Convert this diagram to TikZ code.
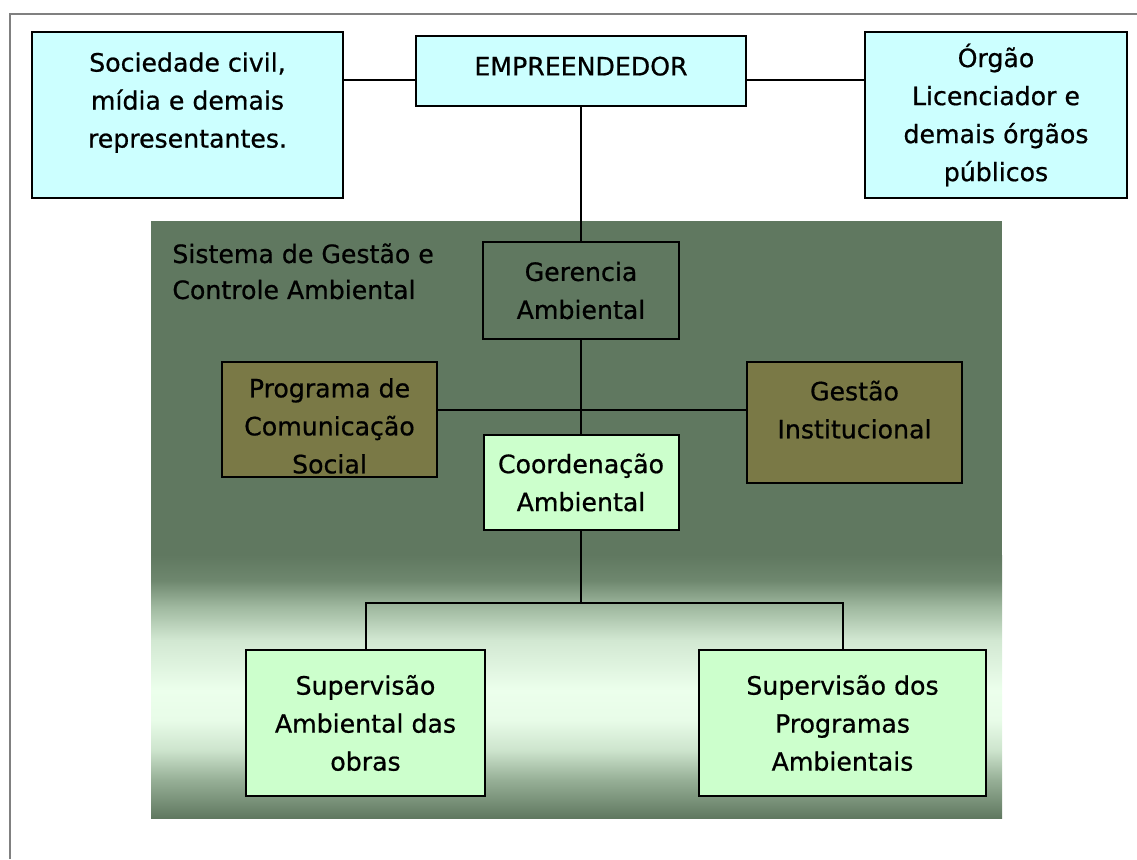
\documentclass[tikz,border=0pt]{standalone}
\usepackage{fontspec}
\setmainfont{DejaVu Sans}[FakeBold=0.7]
\usetikzlibrary{positioning, calc}

\definecolor{paleCyan}{RGB}{204,255,255}
\definecolor{paleGreen}{RGB}{204,255,204}
\definecolor{lightGreen}{RGB}{236,255,236}
\definecolor{darkGreen}{RGB}{96,120,96}
\definecolor{oliveBox}{RGB}{122,121,70}
\definecolor{frameGray}{RGB}{128,128,128}
% steps of the light band in the background
\definecolor{bandA}{RGB}{150,175,150}
\definecolor{bandB}{RGB}{205,228,205}
\definecolor{bandC}{RGB}{232,252,232}
\definecolor{bandD}{RGB}{210,232,210}
\definecolor{bandE}{RGB}{160,185,160}
\definecolor{bandF}{RGB}{110,135,110}
\pgfdeclareverticalshading{lightband}{100bp}{
    color(0bp)=(darkGreen); color(25bp)=(darkGreen); color(32.2bp)=(bandA);
    color(37.9bp)=(bandB); color(43.6bp)=(bandC); color(49.3bp)=(lightGreen);
    color(58.8bp)=(bandD); color(65.1bp)=(bandE); color(70.2bp)=(bandF);
    color(75bp)=(darkGreen); color(100bp)=(darkGreen)}

\begin{document}
\begin{tikzpicture}[
    x=0.5pt, y=-0.5pt,
    orgbox/.style={draw=black, line width=1pt, align=center, inner sep=2pt,
        font=\fontsize{12.6}{19}\selectfont},
    cyanbox/.style={orgbox, fill=paleCyan},
    darkbox/.style={orgbox, fill=darkGreen},
    olivebox/.style={orgbox, fill=oliveBox},
    greenbox/.style={orgbox, fill=paleGreen},
    link/.style={draw=black, line width=1pt}
]
\useasboundingbox (0,0) rectangle (1137,859);

% Outer frame (only top and left edges show)
\draw[frameGray, line width=1pt] (10,859) -- (10,14) -- (1137,14);

% Background of the management system
\fill[darkGreen] (151,221) rectangle (1002,818);
\shade[shading=lightband] (151,555) rectangle (1002,818);

% Top row
\node (soc) [cyanbox, minimum width=155.5pt, minimum height=83pt, text depth=15pt] at (187.5,115)
    {Sociedade civil,\\ mídia e demais\\ representantes.};
\node (emp) [cyanbox, minimum width=165pt, minimum height=35pt, text depth=5pt] at (581,71) {EMPREENDEDOR};
\node (orgao) [cyanbox, minimum width=131pt, minimum height=83pt] at (996,115)
    {Órgão\\ Licenciador e\\ demais órgãos\\ públicos};

% System title
\node (title) [anchor=north west, align=left, inner sep=0pt,
    font=\fontsize{12.6}{18}\selectfont] at (172,243)
    {Sistema de Gestão e\\ Controle Ambiental};

% Management level
\node (ger) [darkbox, minimum width=98pt, minimum height=48.5pt] at (581,290.5)
    {Gerencia\\ Ambiental};
\node (prog) [olivebox, minimum width=107.5pt, minimum height=57.5pt, inner ysep=0pt, text height=54pt] at (329.5,419.5)
    {Programa de\\ Comunicação\\ Social};
\node (gest) [olivebox, minimum width=107.5pt, minimum height=60.5pt, text depth=13pt] at (854.5,422.5)
    {Gestão\\ Institucional};
\node (coord) [greenbox, minimum width=97.5pt, minimum height=47.5pt] at (581,482.5)
    {Coordenação\\ Ambiental};

% Supervision level
\node (supob) [greenbox, minimum width=119.5pt, minimum height=73pt] at (365.5,723)
    {Supervisão\\ Ambiental das\\ obras};
\node (supprog) [greenbox, minimum width=143.5pt, minimum height=73pt] at (842.5,723)
    {Supervisão dos\\ Programas\\ Ambientais};

% Connectors
\coordinate (mid) at (581,410);
\coordinate (split) at (581,603);
\draw[link] (soc.east |- 0,80) -- (emp.west |- 0,80);
\draw[link] (emp.east |- 0,80) -- (orgao.west |- 0,80);
\draw[link] (emp) -- (ger);
\draw[link] (ger) -- (coord);
\draw[link] (prog.east |- mid) -- (gest.west |- mid);
\draw[link] (coord) -- (split);
\draw[link] (supob.north) |- (split) -| (supprog.north);

\end{tikzpicture}
\end{document}
